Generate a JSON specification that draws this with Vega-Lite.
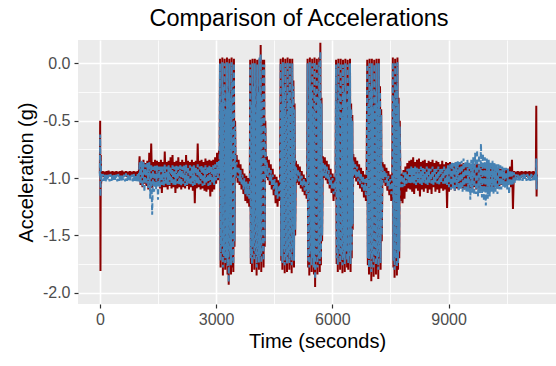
{
  "$schema": "https://vega.github.io/schema/vega-lite/v6.json",
  "width": 478,
  "height": 264,
  "autosize": {"type": "none"},
  "padding": {"left": 78, "top": 40, "right": 0, "bottom": 62},
  "background": "white",
  "title": {"text": "Comparison of Accelerations", "fontSize": 23.5, "font": "Liberation Sans", "fontWeight": "normal", "color": "black", "anchor": "middle", "dx": -18, "offset": 10},
  "config": {
    "view": {"fill": "#EBEBEB", "stroke": null},
    "axis": {"domain": false, "gridColor": "#FFFFFF", "tickColor": "#333333", "tickSize": 4, "tickWidth": 1.2, "labelColor": "#4D4D4D", "labelFontSize": 16, "labelFont": "Liberation Sans", "titleFont": "Liberation Sans", "titleFontSize": 20, "titleFontWeight": "normal", "titleColor": "black", "labelOverlap": false, "labelFlush": false}
  },
  "data": {"values": [
{"t":0,"r":-0.96,"b":-0.98},{"t":8,"r":-0.50,"b":-0.62},{"t":16,"r":-1.81,"b":-1.16},{"t":24,"r":-0.80,"b":-0.85},{"t":32,"r":-1.05,"b":-1.02},{"t":40,"r":-0.94,"b":-0.97},
{"t":50,"r":-0.985,"b":-1.03},{"t":75,"r":-0.94,"b":-0.965},{"t":100,"r":-0.99,"b":-1.025},{"t":125,"r":-0.945,"b":-0.97},{"t":150,"r":-0.985,"b":-1.035},{"t":175,"r":-0.94,"b":-0.965},{"t":200,"r":-0.995,"b":-1.02},{"t":225,"r":-0.935,"b":-0.97},{"t":250,"r":-0.985,"b":-1.03},{"t":275,"r":-0.945,"b":-0.965},{"t":300,"r":-0.99,"b":-1.025},{"t":325,"r":-0.94,"b":-0.97},{"t":350,"r":-0.985,"b":-1.03},{"t":375,"r":-0.945,"b":-0.96},{"t":400,"r":-0.99,"b":-1.02},{"t":425,"r":-0.94,"b":-0.97},{"t":450,"r":-0.98,"b":-1.03},{"t":475,"r":-0.945,"b":-0.965},{"t":500,"r":-0.99,"b":-1.025},{"t":525,"r":-0.94,"b":-0.97},{"t":550,"r":-0.985,"b":-1.035},{"t":575,"r":-0.935,"b":-0.965},{"t":600,"r":-0.99,"b":-1.02},{"t":625,"r":-0.945,"b":-0.97},{"t":650,"r":-0.985,"b":-1.03},{"t":675,"r":-0.94,"b":-0.96},{"t":700,"r":-0.99,"b":-1.025},{"t":725,"r":-0.945,"b":-0.97},{"t":750,"r":-0.985,"b":-1.03},{"t":775,"r":-0.94,"b":-0.965},{"t":800,"r":-0.99,"b":-1.02},{"t":825,"r":-0.945,"b":-0.97},{"t":850,"r":-0.985,"b":-1.03},{"t":875,"r":-0.94,"b":-0.965},{"t":900,"r":-0.99,"b":-1.025},{"t":925,"r":-0.945,"b":-0.97},{"t":950,"r":-0.985,"b":-1.03},{"t":975,"r":-0.94,"b":-0.965},{"t":1000,"r":-0.99,"b":-1.03},
{"t":1025,"r":-0.81,"b":-0.86},{"t":1050,"r":-1.06,"b":-1.05},{"t":1075,"r":-0.86,"b":-0.85},{"t":1100,"r":-1.08,"b":-1.08},{"t":1125,"r":-0.84,"b":-0.86},{"t":1150,"r":-1.05,"b":-1.12},{"t":1175,"r":-0.87,"b":-0.88},{"t":1200,"r":-1.07,"b":-1.06},{"t":1225,"r":-0.85,"b":-0.87},{"t":1250,"r":-1.10,"b":-1.09},{"t":1275,"r":-0.78,"b":-0.86},{"t":1300,"r":-1.06,"b":-1.18},{"t":1325,"r":-0.70,"b":-0.88},{"t":1350,"r":-1.09,"b":-1.32},{"t":1375,"r":-0.86,"b":-0.90},{"t":1400,"r":-1.07,"b":-1.12},{"t":1425,"r":-0.84,"b":-0.88},{"t":1450,"r":-1.08,"b":-1.10},{"t":1475,"r":-0.85,"b":-0.89},{"t":1500,"r":-1.06,"b":-1.19},{"t":1525,"r":-0.86,"b":-0.90},{"t":1550,"r":-1.09,"b":-1.08},{"t":1575,"r":-0.84,"b":-0.89},{"t":1600,"r":-1.13,"b":-1.06},{"t":1625,"r":-0.86,"b":-0.90},{"t":1650,"r":-1.08,"b":-1.07},{"t":1675,"r":-0.77,"b":-0.88},{"t":1700,"r":-1.08,"b":-1.05},{"t":1725,"r":-0.86,"b":-0.90},{"t":1750,"r":-1.10,"b":-1.06},{"t":1775,"r":-0.85,"b":-0.89},{"t":1800,"r":-1.07,"b":-1.06},{"t":1825,"r":-0.82,"b":-0.90},{"t":1850,"r":-1.09,"b":-1.05},{"t":1875,"r":-0.80,"b":-0.89},{"t":1900,"r":-1.08,"b":-1.07},{"t":1925,"r":-0.86,"b":-0.90},{"t":1950,"r":-1.13,"b":-1.06},{"t":1975,"r":-0.85,"b":-0.89},{"t":2000,"r":-1.09,"b":-1.05},{"t":2025,"r":-0.82,"b":-0.90},{"t":2050,"r":-1.08,"b":-1.06},{"t":2075,"r":-0.86,"b":-0.89},{"t":2100,"r":-1.10,"b":-1.07},{"t":2125,"r":-0.84,"b":-0.90},{"t":2150,"r":-1.08,"b":-1.05},{"t":2175,"r":-0.86,"b":-0.89},{"t":2200,"r":-1.09,"b":-1.07},{"t":2225,"r":-0.80,"b":-0.88},{"t":2250,"r":-1.07,"b":-1.06},{"t":2275,"r":-0.85,"b":-0.90},{"t":2300,"r":-1.10,"b":-1.05},{"t":2325,"r":-0.86,"b":-0.89},{"t":2350,"r":-1.08,"b":-1.06},{"t":2375,"r":-0.84,"b":-0.90},{"t":2400,"r":-1.11,"b":-1.07},{"t":2425,"r":-0.86,"b":-0.89},{"t":2450,"r":-1.22,"b":-1.06},{"t":2475,"r":-0.85,"b":-0.90},{"t":2500,"r":-1.09,"b":-1.05},{"t":2525,"r":-0.70,"b":-0.88},{"t":2550,"r":-1.08,"b":-1.06},{"t":2575,"r":-0.85,"b":-0.90},{"t":2600,"r":-1.10,"b":-1.05},{"t":2625,"r":-0.84,"b":-0.89},{"t":2650,"r":-1.09,"b":-1.07},{"t":2675,"r":-0.86,"b":-0.90},{"t":2700,"r":-1.11,"b":-1.06},{"t":2725,"r":-0.83,"b":-0.89},{"t":2750,"r":-1.12,"b":-1.05},{"t":2775,"r":-0.85,"b":-0.90},{"t":2800,"r":-1.10,"b":-1.07},{"t":2825,"r":-0.84,"b":-0.89},{"t":2850,"r":-1.16,"b":-1.06},{"t":2875,"r":-0.85,"b":-0.90},{"t":2900,"r":-1.12,"b":-1.05},{"t":2925,"r":-0.84,"b":-0.89},{"t":2950,"r":-1.10,"b":-1.06},{"t":2975,"r":-0.82,"b":-0.88},{"t":3000,"r":-1.05,"b":-1.02},{"t":3025,"r":-0.78,"b":-0.86},{"t":3050,"r":-1.02,"b":-1.00},{"t":3075,"r":-0.76,"b":-0.85},{"t":3090,"r":-0.98,"b":-0.96},
{"t":3100,"r":0.04,"b":0.00},{"t":3115,"r":-1.78,"b":-1.72},{"t":3130,"r":-0.30,"b":-0.34},{"t":3145,"r":-1.66,"b":-1.60},{"t":3160,"r":0.05,"b":0.01},{"t":3175,"r":-1.85,"b":-1.78},{"t":3190,"r":-0.15,"b":-0.20},{"t":3205,"r":-1.72,"b":-1.68},{"t":3220,"r":0.04,"b":0.00},{"t":3235,"r":-1.80,"b":-1.74},{"t":3250,"r":-0.35,"b":-0.40},{"t":3265,"r":-1.76,"b":-1.70},{"t":3280,"r":0.05,"b":0.01},{"t":3295,"r":-1.84,"b":-1.77},{"t":3310,"r":-0.20,"b":-0.25},{"t":3325,"r":-1.93,"b":-1.91},{"t":3340,"r":0.04,"b":0.00},{"t":3355,"r":-1.70,"b":-1.65},{"t":3370,"r":-0.25,"b":-0.30},{"t":3385,"r":-1.84,"b":-1.76},{"t":3400,"r":0.05,"b":0.01},{"t":3415,"r":-1.78,"b":-1.72},{"t":3430,"r":-0.10,"b":-0.15},{"t":3445,"r":-1.82,"b":-1.75},{"t":3460,"r":0.04,"b":0.00},{"t":3475,"r":-1.60,"b":-1.55},{"t":3490,"r":-0.50,"b":-0.55},
{"t":3505,"r":-1.00,"b":-0.98},{"t":3530,"r":-0.80,"b":-0.86},{"t":3555,"r":-1.04,"b":-1.00},{"t":3580,"r":-0.84,"b":-0.90},{"t":3605,"r":-1.06,"b":-1.03},{"t":3630,"r":-0.88,"b":-0.93},{"t":3655,"r":-1.10,"b":-1.06},{"t":3680,"r":-0.92,"b":-0.97},{"t":3705,"r":-1.14,"b":-1.10},{"t":3730,"r":-0.96,"b":-1.00},{"t":3755,"r":-1.20,"b":-1.14},{"t":3780,"r":-0.98,"b":-1.03},{"t":3805,"r":-1.22,"b":-1.16},{"t":3830,"r":-1.00,"b":-1.05},{"t":3855,"r":-1.25,"b":-1.18},{"t":3870,"r":-1.02,"b":-1.06},
{"t":3880,"r":0.03,"b":-0.01},{"t":3895,"r":-1.75,"b":-1.70},{"t":3910,"r":-0.30,"b":-0.35},{"t":3925,"r":-1.82,"b":-1.75},{"t":3940,"r":0.04,"b":0.00},{"t":3955,"r":-1.65,"b":-1.60},{"t":3970,"r":-0.15,"b":-0.20},{"t":3985,"r":-1.80,"b":-1.72},{"t":4000,"r":0.04,"b":0.00},{"t":4015,"r":-1.70,"b":-1.66},{"t":4030,"r":-0.35,"b":-0.40},{"t":4045,"r":-1.85,"b":-1.78},{"t":4060,"r":0.03,"b":-0.01},{"t":4075,"r":-1.76,"b":-1.70},{"t":4090,"r":-0.20,"b":-0.25},{"t":4105,"r":-1.80,"b":-1.74},{"t":4120,"r":0.04,"b":0.05},{"t":4135,"r":-1.72,"b":-1.68},{"t":4150,"r":0.16,"b":0.08},{"t":4165,"r":-1.82,"b":-1.74},{"t":4180,"r":-0.25,"b":-0.30},{"t":4195,"r":-1.70,"b":-1.65},{"t":4210,"r":0.03,"b":-0.01},{"t":4225,"r":-1.78,"b":-1.72},{"t":4240,"r":0.03,"b":-0.01},{"t":4255,"r":-1.60,"b":-1.55},{"t":4270,"r":-0.50,"b":-0.55},
{"t":4285,"r":-1.00,"b":-0.98},{"t":4310,"r":-0.81,"b":-0.86},{"t":4335,"r":-1.02,"b":-0.99},{"t":4360,"r":-0.84,"b":-0.90},{"t":4385,"r":-1.06,"b":-1.03},{"t":4410,"r":-0.88,"b":-0.93},{"t":4435,"r":-1.10,"b":-1.06},{"t":4460,"r":-0.92,"b":-0.97},{"t":4485,"r":-1.15,"b":-1.10},{"t":4510,"r":-0.97,"b":-1.01},{"t":4535,"r":-1.22,"b":-1.15},{"t":4560,"r":-0.99,"b":-1.04},{"t":4585,"r":-1.25,"b":-1.18},{"t":4610,"r":-1.02,"b":-1.06},{"t":4635,"r":-1.20,"b":-1.16},{"t":4650,"r":-1.00,"b":-1.04},
{"t":4665,"r":0.04,"b":0.00},{"t":4680,"r":-1.72,"b":-1.68},{"t":4695,"r":-0.30,"b":-0.35},{"t":4710,"r":-1.80,"b":-1.74},{"t":4725,"r":0.05,"b":0.01},{"t":4740,"r":-1.66,"b":-1.62},{"t":4755,"r":-0.15,"b":-0.20},{"t":4770,"r":-1.83,"b":-1.76},{"t":4785,"r":0.04,"b":0.00},{"t":4800,"r":-1.75,"b":-1.70},{"t":4815,"r":-0.40,"b":-0.44},{"t":4830,"r":-1.82,"b":-1.75},{"t":4845,"r":0.05,"b":0.01},{"t":4860,"r":-1.70,"b":-1.66},{"t":4875,"r":-0.20,"b":-0.25},{"t":4890,"r":-1.80,"b":-1.74},{"t":4905,"r":0.04,"b":0.00},{"t":4920,"r":-1.76,"b":-1.70},{"t":4935,"r":-0.30,"b":-0.35},{"t":4950,"r":-1.83,"b":-1.76},{"t":4965,"r":0.04,"b":0.00},{"t":4980,"r":-1.68,"b":-1.62},{"t":4995,"r":-0.15,"b":-0.20},{"t":5010,"r":-1.78,"b":-1.72},{"t":5025,"r":-0.35,"b":-0.40},{"t":5040,"r":-1.50,"b":-1.45},
{"t":5060,"r":-0.85,"b":-0.90},{"t":5085,"r":-1.04,"b":-1.01},{"t":5110,"r":-0.88,"b":-0.92},{"t":5135,"r":-1.06,"b":-1.03},{"t":5160,"r":-0.90,"b":-0.95},{"t":5185,"r":-1.09,"b":-1.06},{"t":5210,"r":-0.94,"b":-0.98},{"t":5235,"r":-1.12,"b":-1.08},{"t":5260,"r":-0.97,"b":-1.00},{"t":5285,"r":-1.15,"b":-1.11},{"t":5310,"r":-1.00,"b":-1.03},{"t":5335,"r":-1.18,"b":-1.14},{"t":5350,"r":-1.00,"b":-1.03},
{"t":5360,"r":0.04,"b":0.00},{"t":5375,"r":-1.78,"b":-1.72},{"t":5390,"r":-0.30,"b":-0.35},{"t":5405,"r":-1.85,"b":-1.78},{"t":5420,"r":0.05,"b":0.01},{"t":5435,"r":-1.70,"b":-1.65},{"t":5450,"r":-0.15,"b":-0.20},{"t":5465,"r":-1.82,"b":-1.76},{"t":5480,"r":0.04,"b":0.00},{"t":5495,"r":-1.75,"b":-1.70},{"t":5510,"r":-0.35,"b":-0.40},{"t":5525,"r":-1.84,"b":-1.78},{"t":5540,"r":0.05,"b":0.01},{"t":5555,"r":-1.95,"b":-1.88},{"t":5570,"r":-0.20,"b":-0.25},{"t":5585,"r":-1.72,"b":-1.68},{"t":5600,"r":0.04,"b":0.00},{"t":5615,"r":-1.84,"b":-1.78},{"t":5630,"r":-0.25,"b":-0.30},{"t":5645,"r":-1.76,"b":-1.70},{"t":5660,"r":0.05,"b":0.01},{"t":5675,"r":-1.82,"b":-1.75},{"t":5690,"r":0.18,"b":0.10},{"t":5705,"r":-1.76,"b":-1.70},{"t":5720,"r":-0.30,"b":-0.35},{"t":5735,"r":-1.55,"b":-1.50},
{"t":5755,"r":-0.81,"b":-0.86},{"t":5780,"r":-1.00,"b":-0.98},{"t":5805,"r":-0.82,"b":-0.88},{"t":5830,"r":-1.02,"b":-1.00},{"t":5855,"r":-0.85,"b":-0.90},{"t":5880,"r":-1.05,"b":-1.02},{"t":5905,"r":-0.88,"b":-0.93},{"t":5930,"r":-1.09,"b":-1.06},{"t":5955,"r":-0.92,"b":-0.97},{"t":5980,"r":-1.13,"b":-1.09},{"t":6005,"r":-0.96,"b":-1.00},{"t":6030,"r":-1.20,"b":-1.14},{"t":6055,"r":-0.99,"b":-1.03},{"t":6080,"r":-1.16,"b":-1.12},
{"t":6095,"r":0.03,"b":-0.01},{"t":6110,"r":-1.75,"b":-1.70},{"t":6125,"r":-0.30,"b":-0.35},{"t":6140,"r":-1.82,"b":-1.76},{"t":6155,"r":0.04,"b":0.00},{"t":6170,"r":-1.68,"b":-1.62},{"t":6185,"r":-0.15,"b":-0.20},{"t":6200,"r":-1.80,"b":-1.74},{"t":6215,"r":0.04,"b":0.00},{"t":6230,"r":-1.72,"b":-1.68},{"t":6245,"r":-0.40,"b":-0.45},{"t":6260,"r":-1.83,"b":-1.76},{"t":6275,"r":0.03,"b":-0.01},{"t":6290,"r":-1.75,"b":-1.70},{"t":6305,"r":-0.20,"b":-0.25},{"t":6320,"r":-1.82,"b":-1.75},{"t":6335,"r":0.04,"b":0.00},{"t":6350,"r":-1.70,"b":-1.64},{"t":6365,"r":-0.30,"b":-0.35},{"t":6380,"r":-1.78,"b":-1.72},{"t":6395,"r":0.03,"b":-0.01},{"t":6410,"r":-1.80,"b":-1.74},{"t":6425,"r":-0.15,"b":-0.20},{"t":6440,"r":-1.74,"b":-1.68},{"t":6455,"r":0.04,"b":0.00},{"t":6470,"r":-1.82,"b":-1.75},{"t":6485,"r":-0.35,"b":-0.40},{"t":6500,"r":-1.70,"b":-1.64},{"t":6515,"r":-0.45,"b":-0.50},{"t":6525,"r":-1.45,"b":-1.40},
{"t":6540,"r":-0.79,"b":-0.85},{"t":6565,"r":-1.00,"b":-0.98},{"t":6590,"r":-0.82,"b":-0.88},{"t":6615,"r":-1.03,"b":-1.00},{"t":6640,"r":-0.85,"b":-0.90},{"t":6665,"r":-1.06,"b":-1.03},{"t":6690,"r":-0.88,"b":-0.93},{"t":6715,"r":-1.09,"b":-1.05},{"t":6740,"r":-0.91,"b":-0.96},{"t":6765,"r":-1.12,"b":-1.08},{"t":6790,"r":-0.94,"b":-0.98},{"t":6815,"r":-1.17,"b":-1.12},{"t":6840,"r":-0.97,"b":-1.01},{"t":6865,"r":-1.20,"b":-1.15},{"t":6885,"r":-0.99,"b":-1.03},
{"t":6900,"r":0.03,"b":-0.01},{"t":6915,"r":-1.76,"b":-1.70},{"t":6930,"r":-0.30,"b":-0.35},{"t":6945,"r":-1.84,"b":-1.78},{"t":6960,"r":0.04,"b":0.00},{"t":6975,"r":-1.70,"b":-1.66},{"t":6990,"r":-0.15,"b":-0.20},{"t":7005,"r":-1.90,"b":-1.82},{"t":7020,"r":0.04,"b":0.00},{"t":7035,"r":-1.75,"b":-1.70},{"t":7050,"r":-0.35,"b":-0.40},{"t":7065,"r":-1.86,"b":-1.78},{"t":7080,"r":0.03,"b":-0.01},{"t":7095,"r":-1.72,"b":-1.68},{"t":7110,"r":-0.20,"b":-0.25},{"t":7125,"r":-1.84,"b":-1.76},{"t":7140,"r":0.04,"b":0.00},{"t":7155,"r":-1.78,"b":-1.72},{"t":7170,"r":-0.30,"b":-0.35},{"t":7185,"r":-1.88,"b":-1.80},{"t":7200,"r":0.04,"b":0.00},{"t":7215,"r":-1.70,"b":-1.65},{"t":7230,"r":-0.20,"b":-0.25},{"t":7245,"r":-1.80,"b":-1.74},{"t":7260,"r":-0.40,"b":-0.45},{"t":7275,"r":-1.55,"b":-1.50},
{"t":7295,"r":-0.86,"b":-0.91},{"t":7320,"r":-1.04,"b":-1.01},{"t":7345,"r":-0.88,"b":-0.93},{"t":7370,"r":-1.07,"b":-1.04},{"t":7395,"r":-0.91,"b":-0.96},{"t":7420,"r":-1.11,"b":-1.07},{"t":7445,"r":-0.94,"b":-0.98},{"t":7470,"r":-1.15,"b":-1.10},{"t":7495,"r":-0.97,"b":-1.01},{"t":7520,"r":-1.20,"b":-1.14},{"t":7545,"r":-1.00,"b":-1.04},
{"t":7560,"r":0.05,"b":0.01},{"t":7575,"r":-1.78,"b":-1.72},{"t":7590,"r":-0.25,"b":-0.30},{"t":7605,"r":-1.87,"b":-1.80},{"t":7620,"r":0.04,"b":0.00},{"t":7635,"r":-1.75,"b":-1.70},{"t":7650,"r":-0.15,"b":-0.20},{"t":7665,"r":-1.85,"b":-1.78},{"t":7680,"r":0.05,"b":0.01},{"t":7695,"r":-1.80,"b":-1.74},{"t":7710,"r":-0.30,"b":-0.35},{"t":7725,"r":-1.70,"b":-1.64},{"t":7740,"r":-0.50,"b":-0.55},
{"t":7760,"r":-1.20,"b":-1.08},{"t":7785,"r":-0.96,"b":-0.97},{"t":7810,"r":-1.22,"b":-1.08},{"t":7835,"r":-0.93,"b":-0.95},{"t":7860,"r":-1.18,"b":-1.07},{"t":7885,"r":-0.90,"b":-0.94},{"t":7910,"r":-1.12,"b":-1.05},{"t":7935,"r":-0.87,"b":-0.92},{"t":7960,"r":-1.09,"b":-1.04},{"t":7985,"r":-0.85,"b":-0.91},
{"t":8010,"r":-1.10,"b":-1.05},{"t":8035,"r":-0.84,"b":-0.90},{"t":8060,"r":-1.12,"b":-1.04},{"t":8085,"r":-0.82,"b":-0.91},{"t":8110,"r":-1.14,"b":-1.05},{"t":8135,"r":-0.86,"b":-0.90},{"t":8160,"r":-1.09,"b":-1.06},{"t":8185,"r":-0.84,"b":-0.91},{"t":8210,"r":-1.11,"b":-1.04},{"t":8235,"r":-0.83,"b":-0.92},{"t":8260,"r":-1.16,"b":-1.05},{"t":8285,"r":-0.86,"b":-0.90},{"t":8310,"r":-1.10,"b":-1.06},{"t":8335,"r":-0.85,"b":-0.91},{"t":8360,"r":-1.12,"b":-1.04},{"t":8385,"r":-0.84,"b":-0.92},{"t":8410,"r":-1.09,"b":-1.05},{"t":8435,"r":-0.87,"b":-0.90},{"t":8460,"r":-1.13,"b":-1.06},{"t":8485,"r":-0.85,"b":-0.91},{"t":8510,"r":-1.10,"b":-1.04},{"t":8535,"r":-0.86,"b":-0.92},{"t":8560,"r":-1.14,"b":-1.05},{"t":8585,"r":-0.84,"b":-0.90},{"t":8610,"r":-1.08,"b":-1.06},{"t":8635,"r":-0.87,"b":-0.91},{"t":8660,"r":-1.12,"b":-1.04},{"t":8685,"r":-0.85,"b":-0.92},{"t":8710,"r":-1.10,"b":-1.05},{"t":8735,"r":-0.86,"b":-0.90},{"t":8760,"r":-1.13,"b":-1.06},{"t":8785,"r":-0.88,"b":-0.91},{"t":8810,"r":-1.09,"b":-1.04},{"t":8835,"r":-0.85,"b":-0.92},{"t":8860,"r":-1.11,"b":-1.05},{"t":8885,"r":-0.88,"b":-0.90},{"t":8910,"r":-1.10,"b":-1.06},{"t":8935,"r":-0.86,"b":-0.91},{"t":8960,"r":-1.26,"b":-1.06},{"t":8985,"r":-0.87,"b":-0.89},
{"t":9010,"r":-1.12,"b":-1.08},{"t":9035,"r":-0.86,"b":-0.88},{"t":9060,"r":-1.10,"b":-1.10},{"t":9085,"r":-0.87,"b":-0.86},{"t":9110,"r":-1.08,"b":-1.09},{"t":9135,"r":-0.88,"b":-0.87},{"t":9160,"r":-1.11,"b":-1.12},{"t":9185,"r":-0.86,"b":-0.86},{"t":9210,"r":-1.09,"b":-1.08},{"t":9235,"r":-0.88,"b":-0.85},{"t":9260,"r":-1.10,"b":-1.11},{"t":9285,"r":-0.87,"b":-0.86},{"t":9310,"r":-1.08,"b":-1.10},{"t":9335,"r":-0.88,"b":-0.85},{"t":9360,"r":-1.09,"b":-1.12},{"t":9385,"r":-0.87,"b":-0.83},{"t":9410,"r":-1.10,"b":-1.10},{"t":9435,"r":-0.88,"b":-0.85},{"t":9460,"r":-1.08,"b":-1.13},{"t":9485,"r":-0.87,"b":-0.84},{"t":9510,"r":-1.10,"b":-1.12},{"t":9535,"r":-0.89,"b":-0.86},{"t":9560,"r":-1.09,"b":-1.19},{"t":9585,"r":-0.88,"b":-0.84},{"t":9610,"r":-1.10,"b":-1.13},{"t":9635,"r":-0.87,"b":-0.82},{"t":9660,"r":-1.08,"b":-1.15},{"t":9685,"r":-0.88,"b":-0.78},{"t":9710,"r":-1.10,"b":-1.14},{"t":9735,"r":-0.87,"b":-0.755},{"t":9760,"r":-1.09,"b":-1.16},{"t":9785,"r":-0.88,"b":-0.80},{"t":9810,"r":-1.10,"b":-1.13},{"t":9835,"r":-0.87,"b":-0.70},{"t":9860,"r":-1.08,"b":-1.17},{"t":9885,"r":-0.88,"b":-0.79},{"t":9910,"r":-1.10,"b":-1.20},{"t":9935,"r":-0.88,"b":-0.82},{"t":9960,"r":-1.12,"b":-1.24},{"t":9985,"r":-0.89,"b":-0.83},{"t":10010,"r":-1.10,"b":-1.18},{"t":10035,"r":-0.90,"b":-0.84},{"t":10060,"r":-1.08,"b":-1.16},{"t":10085,"r":-0.89,"b":-0.86},{"t":10110,"r":-1.10,"b":-1.12},{"t":10135,"r":-0.90,"b":-0.85},{"t":10160,"r":-1.09,"b":-1.14},{"t":10185,"r":-0.90,"b":-0.87},{"t":10210,"r":-1.08,"b":-1.12},{"t":10235,"r":-0.91,"b":-0.88},{"t":10260,"r":-1.09,"b":-1.14},{"t":10285,"r":-0.91,"b":-0.88},{"t":10310,"r":-1.07,"b":-1.10},{"t":10335,"r":-0.92,"b":-0.89},{"t":10360,"r":-1.06,"b":-1.10},{"t":10385,"r":-0.92,"b":-0.90},{"t":10410,"r":-1.06,"b":-1.08},{"t":10435,"r":-0.93,"b":-0.91},{"t":10460,"r":-1.05,"b":-1.09},{"t":10485,"r":-0.93,"b":-0.91},{"t":10510,"r":-1.06,"b":-1.10},{"t":10535,"r":-0.92,"b":-0.92},{"t":10560,"r":-1.05,"b":-1.14},{"t":10585,"r":-0.90,"b":-0.93},{"t":10610,"r":-1.08,"b":-1.07},{"t":10635,"r":-0.84,"b":-0.93},{"t":10660,"r":-1.27,"b":-1.06},{"t":10685,"r":-0.94,"b":-0.95},{"t":10710,"r":-1.02,"b":-1.04},
{"t":10735,"r":-0.945,"b":-0.965},{"t":10760,"r":-1.00,"b":-1.02},{"t":10785,"r":-0.94,"b":-0.97},{"t":10810,"r":-0.99,"b":-1.025},{"t":10835,"r":-0.945,"b":-0.965},{"t":10860,"r":-1.00,"b":-1.02},{"t":10885,"r":-0.94,"b":-0.97},{"t":10910,"r":-0.99,"b":-1.025},{"t":10935,"r":-0.945,"b":-0.965},{"t":10960,"r":-1.00,"b":-1.02},{"t":10985,"r":-0.94,"b":-0.97},{"t":11010,"r":-0.99,"b":-1.025},{"t":11035,"r":-0.945,"b":-0.965},{"t":11060,"r":-1.00,"b":-1.02},{"t":11085,"r":-0.94,"b":-0.97},{"t":11110,"r":-0.99,"b":-1.025},{"t":11135,"r":-0.945,"b":-0.965},{"t":11160,"r":-1.00,"b":-1.02},{"t":11185,"r":-0.94,"b":-0.97},{"t":11210,"r":-0.99,"b":-1.025},{"t":11235,"r":-0.945,"b":-0.965},{"t":11250,"r":-1.00,"b":-1.02},
{"t":11262,"r":-0.37,"b":-0.83},{"t":11270,"r":-1.16,"b":-1.10},{"t":11278,"r":-0.97,"b":-0.98}
  ]},
  "layer": [
    {
      "mark": {"type": "line", "color": "#8B0000", "strokeWidth": 2, "clip": true},
      "encoding": {
        "x": {"field": "t", "type": "quantitative", "scale": {"domain": [-564, 11771], "nice": false, "zero": false},
          "axis": {"title": "Time (seconds)", "values": [0, 1500, 3000, 4500, 6000, 7500, 9000, 10500], "labelExpr": "datum.value % 3000 === 0 ? format(datum.value, 'd') : ''", "gridWidth": {"condition": {"test": "datum.value % 3000 === 0", "value": 1.6}, "value": 0.8}, "tickOpacity": {"condition": {"test": "datum.value % 3000 === 0", "value": 1}, "value": 0}, "labelPadding": 3, "titlePadding": 4}},
        "y": {"field": "r", "type": "quantitative", "scale": {"domain": [-2.098, 0.203], "nice": false, "zero": false},
          "axis": {"title": "Acceleration (g)", "values": [-2, -1.75, -1.5, -1.25, -1, -0.75, -0.5, -0.25, 0], "labelExpr": "abs(datum.value*2 - round(datum.value*2)) < 0.001 ? (datum.value < 0 ? '-' : '') + format(abs(datum.value), '.1f') : ''", "gridWidth": {"condition": {"test": "abs(datum.value*2 - round(datum.value*2)) < 0.001", "value": 1.6}, "value": 0.8}, "tickOpacity": {"condition": {"test": "abs(datum.value*2 - round(datum.value*2)) < 0.001", "value": 1}, "value": 0}, "labelPadding": 4, "titlePadding": 6}}
      }
    },
    {
      "mark": {"type": "line", "color": "#4682B4", "strokeWidth": 2, "strokeDash": [5, 3], "clip": true},
      "encoding": {
        "x": {"field": "t", "type": "quantitative", "scale": {"domain": [-564, 11771], "nice": false, "zero": false},
          "axis": {"title": "Time (seconds)", "values": [0, 1500, 3000, 4500, 6000, 7500, 9000, 10500], "labelExpr": "datum.value % 3000 === 0 ? format(datum.value, 'd') : ''", "gridWidth": {"condition": {"test": "datum.value % 3000 === 0", "value": 1.6}, "value": 0.8}, "tickOpacity": {"condition": {"test": "datum.value % 3000 === 0", "value": 1}, "value": 0}, "labelPadding": 3, "titlePadding": 4}},
        "y": {"field": "b", "type": "quantitative", "scale": {"domain": [-2.098, 0.203], "nice": false, "zero": false},
          "axis": {"title": "Acceleration (g)", "values": [-2, -1.75, -1.5, -1.25, -1, -0.75, -0.5, -0.25, 0], "labelExpr": "abs(datum.value*2 - round(datum.value*2)) < 0.001 ? (datum.value < 0 ? '-' : '') + format(abs(datum.value), '.1f') : ''", "gridWidth": {"condition": {"test": "abs(datum.value*2 - round(datum.value*2)) < 0.001", "value": 1.6}, "value": 0.8}, "tickOpacity": {"condition": {"test": "abs(datum.value*2 - round(datum.value*2)) < 0.001", "value": 1}, "value": 0}, "labelPadding": 4, "titlePadding": 6}}
      }
    }
  ]
}
